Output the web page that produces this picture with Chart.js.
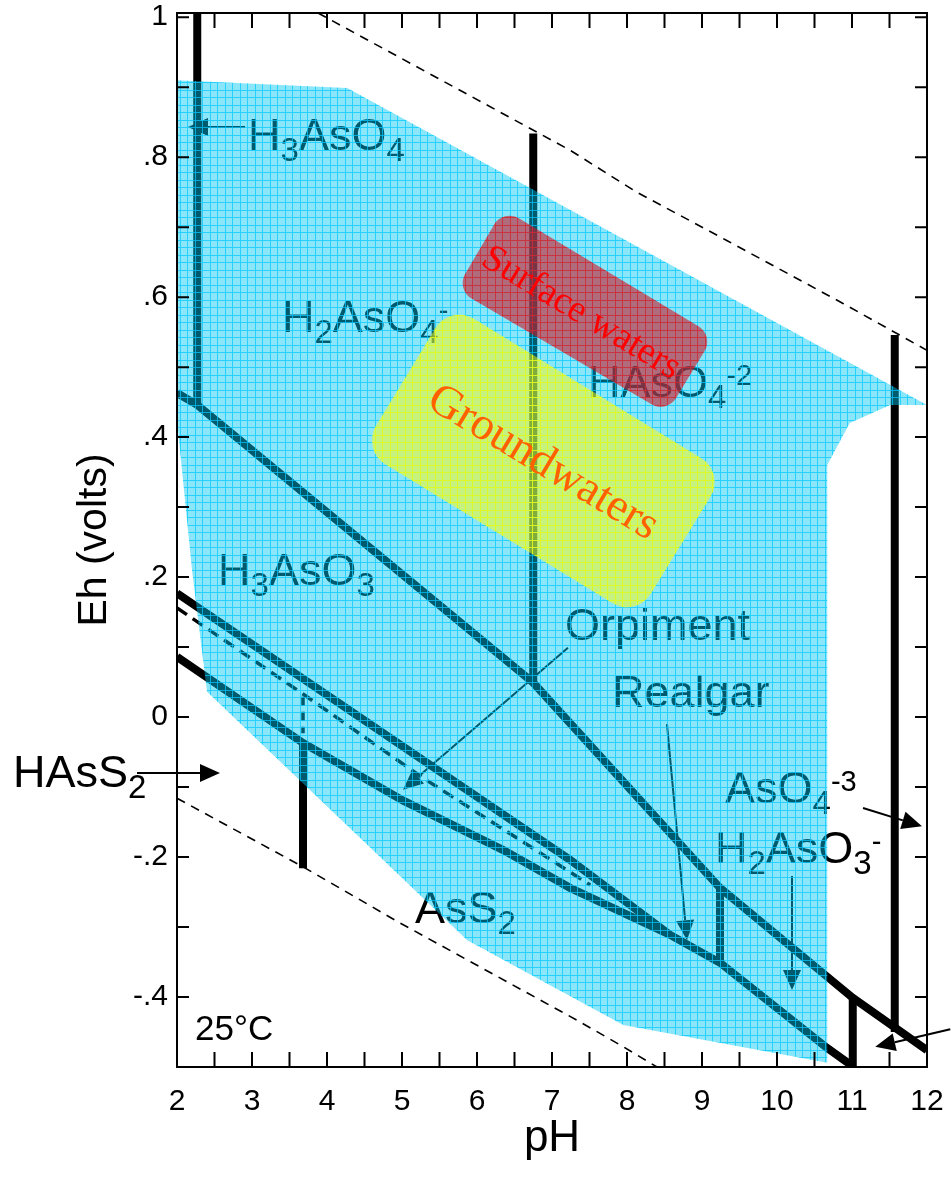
<!DOCTYPE html>
<html>
<head>
<meta charset="utf-8">
<script src="https://cdn.jsdelivr.net/npm/chart.js"></script>
<style>
  body { margin: 0; background: #fff; }
</style>
</head>
<body>
<canvas id="myChart" width="951" height="1187"></canvas>
<script>
    // tick labels
    const phTicks = [2, 3, 4, 5, 6, 7, 8, 9, 10, 11, 12];
    const ehTicks = [-0.4, -0.2, 0, 0.2, 0.4, 0.6, 0.8, 1];

    // stability field boundaries (pH, Eh in volts)
    const redoxPH = [2, 2.27, 6.75, 9.24, 10.67, 11.01, 12];
    const redoxEh = [0.463, 0.446, 0.049, -0.244, -0.371, -0.401, -0.476];
    const h3aso4PH = [2.27, 2.27];
    const h3aso4Eh = [1.006, 0.446];
    const h2aso4PH = [6.75, 6.75];
    const h2aso4Eh = [0.834, 0.049];
    const haso4PH = [11.57, 11.57];
    const haso4Eh = [0.546, -0.45];
    const h3aso3PH = [9.24, 9.24];
    const h3aso3Eh = [-0.244, -0.351];
    const h2aso3PH = [11.01, 11.01];
    const h2aso3Eh = [-0.401, -0.5];
    const orpimentPH = [2, 7.24, 8.57, 9.24, 10.67, 11.01];
    const orpimentEh = [0.177, -0.204, -0.311, -0.351, -0.473, -0.499];
    const realgarPH = [2, 3.68, 5.01, 6.35, 7.24, 8.57];
    const realgarEh = [0.086, -0.037, -0.119, -0.19, -0.244, -0.311];
    const hass2PH = [3.68, 3.68];
    const hass2Eh = [-0.037, -0.216];
    const metaPH = [2, 3.68, 5.28, 6.84, 7.51];
    const metaEh = [0.156, 0.033, -0.087, -0.194, -0.24];
    const metaStepPH = [3.68, 3.68];
    const metaStepEh = [0.029, -0.023];

    // water stability limits
    const waterTopPH = [3.88, 7.24, 8.13, 9.33, 10.88, 12];
    const waterTopEh = [1.006, 0.81, 0.75, 0.681, 0.591, 0.524];
    const waterBotPH = [2, 3.68, 4.97, 5.87, 7.33, 7.95, 8.4];
    const waterBotEh = [-0.116, -0.214, -0.294, -0.347, -0.433, -0.471, -0.5];

    // natural waters envelope
    const envelopePH = [2, 4.27, 12, 11.51, 10.97, 10.67, 10.67, 7.95, 5.87, 2.4, 2.2, 2];
    const envelopeEh = [0.91, 0.899, 0.446, 0.446, 0.42, 0.36, -0.494, -0.44, -0.319, 0.036, 0.21, 0.424];

    // water type boxes (corners)
    const surfacePH = [6.35, 9.16, 8.53, 5.72];
    const surfaceEh = [0.726, 0.545, 0.434, 0.611];
    const groundPH = [5.64, 9.31, 8.12, 4.46];
    const groundEh = [0.59, 0.349, 0.142, 0.382];

    Chart.defaults.font.family = '"Liberation Sans", Arial, sans-serif';
    Chart.defaults.color = '#000';

    function pts(ph, eh) {
        return ph.map((p, i) => ({x: p, y: eh[i]}));
    }

    function gridPattern(base, line) {
        const c = document.createElement('canvas');
        c.width = 15; c.height = 15;
        const g = c.getContext('2d');
        const img = g.createImageData(15, 15);
        for (let y = 0; y < 15; y++) {
            for (let x = 0; x < 15; x++) {
                const onLine = x === 0 || x === 7 || y === 0 || y === 7;
                const col = onLine ? line : base;
                const k = (y * 15 + x) * 4;
                img.data[k] = col[0]; img.data[k + 1] = col[1];
                img.data[k + 2] = col[2]; img.data[k + 3] = Math.round(col[3] * 255);
            }
        }
        g.putImageData(img, 0, 0);
        return g.createPattern(c, 'repeat');
    }

    const bluePattern = gridPattern([0, 200, 245, 0.45], [0, 200, 255, 0.85]);
    const redPattern = gridPattern([200, 25, 40, 0.6], [255, 0, 0, 0.75]);
    const yellowPattern = gridPattern([255, 255, 0, 0.5], [255, 255, 0, 0.85]);

    function boundary(ph, eh, extra) {
        return Object.assign({
            data: pts(ph, eh),
            borderColor: '#000',
            borderWidth: 8,
            pointRadius: 0,
            fill: false,
            order: 2
        }, extra || {});
    }

    const datasets = [
        {
            data: pts(envelopePH, envelopeEh),
            fill: 'shape',
            backgroundColor: bluePattern,
            borderColor: 'rgba(0,0,0,0)',
            borderWidth: 0,
            pointRadius: 0,
            order: 1
        },
        boundary(redoxPH, redoxEh),
        boundary(h3aso4PH, h3aso4Eh),
        boundary(h2aso4PH, h2aso4Eh),
        boundary(haso4PH, haso4Eh),
        boundary(h3aso3PH, h3aso3Eh),
        boundary(h2aso3PH, h2aso3Eh),
        boundary(orpimentPH, orpimentEh),
        boundary(realgarPH, realgarEh),
        boundary(hass2PH, hass2Eh),
        boundary(metaPH, metaEh, {borderWidth: 3.5, borderDash: [12, 7]}),
        boundary(metaStepPH, metaStepEh, {borderWidth: 3.5, borderDash: [9, 6]}),
        boundary(waterTopPH, waterTopEh, {borderWidth: 1.6, borderDash: [9, 7]}),
        boundary(waterBotPH, waterBotEh, {borderWidth: 1.6, borderDash: [9, 7]})
    ];

    function drawFormula(ctx, str, x, y) {
        const parts = [];
        let i = 0;
        while (i < str.length) {
            const c = str[i];
            if (c === '_') { parts.push({t: str[i + 1], k: 'sub'}); i += 2; }
            else if (c === '^') { parts.push({t: str.slice(i + 1), k: 'sup'}); break; }
            else {
                let j = i;
                while (j < str.length && str[j] !== '_' && str[j] !== '^') j++;
                parts.push({t: str.slice(i, j), k: 'n'});
                i = j;
            }
        }
        ctx.textAlign = 'left';
        ctx.textBaseline = 'alphabetic';
        let cx = x;
        for (const p of parts) {
            let size = 45, dy = 0;
            if (p.k === 'sub') { size = 33; dy = 11; }
            if (p.k === 'sup') { size = 29; dy = -12; }
            ctx.font = size + 'px "Liberation Sans", Arial, sans-serif';
            ctx.fillText(p.t, cx, y + dy);
            cx += ctx.measureText(p.t).width;
        }
    }

    function arrow(ctx, x1, y1, x2, y2, w) {
        const a = Math.atan2(y2 - y1, x2 - x1);
        const len = 20, half = 9;
        const bx = x2 - len * Math.cos(a), by = y2 - len * Math.sin(a);
        ctx.lineWidth = w;
        ctx.beginPath();
        ctx.moveTo(x1, y1);
        ctx.lineTo(bx, by);
        ctx.stroke();
        ctx.beginPath();
        ctx.moveTo(x2, y2);
        ctx.lineTo(bx + half * Math.sin(a), by - half * Math.cos(a));
        ctx.lineTo(bx - half * Math.sin(a), by + half * Math.cos(a));
        ctx.closePath();
        ctx.fill();
    }

    // species names and arrows sit under the envelope shading
    const speciesLabels = {
        id: 'speciesLabels',
        beforeDatasetsDraw(chart, args, opts) {
            const {ctx, scales: {x, y}} = chart;
            ctx.save();
            ctx.fillStyle = '#000';
            ctx.strokeStyle = '#000';
            opts.labels.forEach(l => drawFormula(ctx, l.text, x.getPixelForValue(l.ph), y.getPixelForValue(l.eh)));
            opts.arrows.forEach(a => arrow(ctx,
                x.getPixelForValue(a[0]), y.getPixelForValue(a[1]),
                x.getPixelForValue(a[2]), y.getPixelForValue(a[3]), 2));
            ctx.restore();
        }
    };

    function roundedPoly(ctx, p, r) {
        const n = p.length;
        const mid = (a, b) => [(a[0] + b[0]) / 2, (a[1] + b[1]) / 2];
        const s = mid(p[n - 1], p[0]);
        ctx.beginPath();
        ctx.moveTo(s[0], s[1]);
        for (let i = 0; i < n; i++) {
            const m = mid(p[i], p[(i + 1) % n]);
            ctx.arcTo(p[i][0], p[i][1], m[0], m[1], r);
        }
        ctx.closePath();
    }

    const overlays = {
        id: 'overlays',
        afterDatasetsDraw(chart, args, opts) {
            const {ctx, chartArea: {left, right, top, bottom}, scales: {x, y}} = chart;
            ctx.save();

            opts.boxes.forEach(b => {
                const corners = b.ph.map((p, i) => [x.getPixelForValue(p), y.getPixelForValue(b.eh[i])]);
                roundedPoly(ctx, corners, b.radius);
                ctx.fillStyle = b.fill;
                ctx.fill();
                ctx.save();
                ctx.translate(x.getPixelForValue(b.textPH), y.getPixelForValue(b.textEh));
                ctx.rotate(b.angle * Math.PI / 180);
                ctx.font = b.size + 'px "Liberation Serif", "Times New Roman", serif';
                ctx.fillStyle = b.color;
                ctx.textAlign = 'center';
                ctx.textBaseline = 'middle';
                ctx.fillText(b.text, 0, 0);
                ctx.restore();
            });

            // temperature note
            ctx.fillStyle = '#000';
            ctx.font = '35px "Liberation Sans", Arial, sans-serif';
            ctx.textAlign = 'left';
            ctx.textBaseline = 'alphabetic';
            ctx.fillText('25\u00B0C', x.getPixelForValue(2.24), y.getPixelForValue(-0.461));

            // frame with inward ticks
            ctx.strokeStyle = '#000';
            ctx.lineWidth = 2;
            ctx.strokeRect(left, top, right - left, bottom - top);
            ctx.beginPath();
            for (let v = 2.5; v < 12; v += 0.5) {
                const px = x.getPixelForValue(v);
                ctx.moveTo(px, bottom); ctx.lineTo(px, bottom - 15);
                ctx.moveTo(px, top); ctx.lineTo(px, top + 15);
            }
            for (let k = -4; k <= 10; k++) {
                const py = y.getPixelForValue(k / 10);
                ctx.moveTo(left, py); ctx.lineTo(left + 12, py);
                ctx.moveTo(right, py); ctx.lineTo(right - 12, py);
            }
            ctx.stroke();
            ctx.restore();
        }
    };

    function ehLabel(v) {
        if (Math.abs(v) < 1e-9) return '0';
        if (Math.abs(v - 1) < 1e-9) return '1';
        return (v < 0 ? '-' : '') + Math.abs(v).toFixed(1).replace(/^0/, '');
    }

    // keep tick-label overhang from shrinking the plot area
    function noOverhang(s) {
        s.paddingTop = 0; s.paddingBottom = 0;
        s.paddingLeft = 0; s.paddingRight = 0;
    }

    const config = {
        type: 'line',
        data: { datasets },
        options: {
            responsive: false,
            animation: false,
            layout: { padding: { top: 13, right: 24, left: 0, bottom: 0 } },
            plugins: {
                legend: { display: false },
                tooltip: { enabled: false },
                speciesLabels: {
                    labels: [
                        {text: 'H_3AsO_4', ph: 2.947, eh: 0.81},
                        {text: 'H_2AsO_4^-', ph: 3.4, eh: 0.55},
                        {text: 'HAsO_4^-2', ph: 7.48, eh: 0.457},
                        {text: 'H_3AsO_3', ph: 2.547, eh: 0.189},
                        {text: 'Orpiment', ph: 7.173, eh: 0.11},
                        {text: 'Realgar', ph: 7.8, eh: 0.014},
                        {text: 'AsS_2', ph: 5.173, eh: -0.294},
                        {text: 'AsO_4^-3', ph: 9.307, eh: -0.123},
                        {text: 'H_2AsO_3^-', ph: 9.173, eh: -0.209},
                        {text: 'HAsS_2', ph: -0.187, eh: -0.1}
                    ],
                    arrows: [
                        [2.907, 0.843, 2.147, 0.843],
                        [1.467, -0.08, 2.573, -0.08],
                        [7.213, 0.099, 5.013, -0.104],
                        [8.533, -0.01, 8.8, -0.319],
                        [11.147, -0.13, 11.933, -0.156],
                        [10.2, -0.227, 10.2, -0.39],
                        [12.31, -0.446, 11.31, -0.471]
                    ]
                },
                overlays: {
                    boxes: [
                        {ph: surfacePH, eh: surfaceEh, radius: 18, fill: redPattern,
                         text: 'Surface waters', textPH: 7.387, textEh: 0.577, angle: 31, size: 38, color: '#ff0000'},
                        {ph: groundPH, eh: groundEh, radius: 28, fill: yellowPattern,
                         text: 'Groundwaters', textPH: 6.88, textEh: 0.363, angle: 31, size: 46, color: '#ff6000'}
                    ]
                }
            },
            scales: {
                x: {
                    type: 'linear',
                    min: 2,
                    max: 12,
                    afterBuildTicks: s => { s.ticks = phTicks.map(v => ({value: v})); },
                    afterFit: s => { s.height = 120; noOverhang(s); },
                    grid: { display: false, drawTicks: false },
                    border: { display: false },
                    ticks: { font: { size: 30 }, padding: 17, maxRotation: 0, autoSkip: false },
                    title: { display: true, text: 'pH', font: { size: 44 }, padding: { top: 0, bottom: 22 } }
                },
                y: {
                    type: 'linear',
                    min: -0.5,
                    max: 1.006,
                    afterBuildTicks: s => { s.ticks = ehTicks.map(v => ({value: v})); },
                    afterFit: s => { s.width = 177; noOverhang(s); },
                    grid: { display: false, drawTicks: false },
                    border: { display: false },
                    ticks: { font: { size: 30 }, padding: 9, autoSkip: false, callback: v => ehLabel(v) },
                    title: { display: true, text: 'Eh (volts)', font: { size: 41 }, padding: { top: 70, bottom: 0 } }
                }
            }
        },
        plugins: [speciesLabels, overlays]
    };

    const myChart = new Chart(document.getElementById('myChart'), config);
</script>
</body>
</html>
